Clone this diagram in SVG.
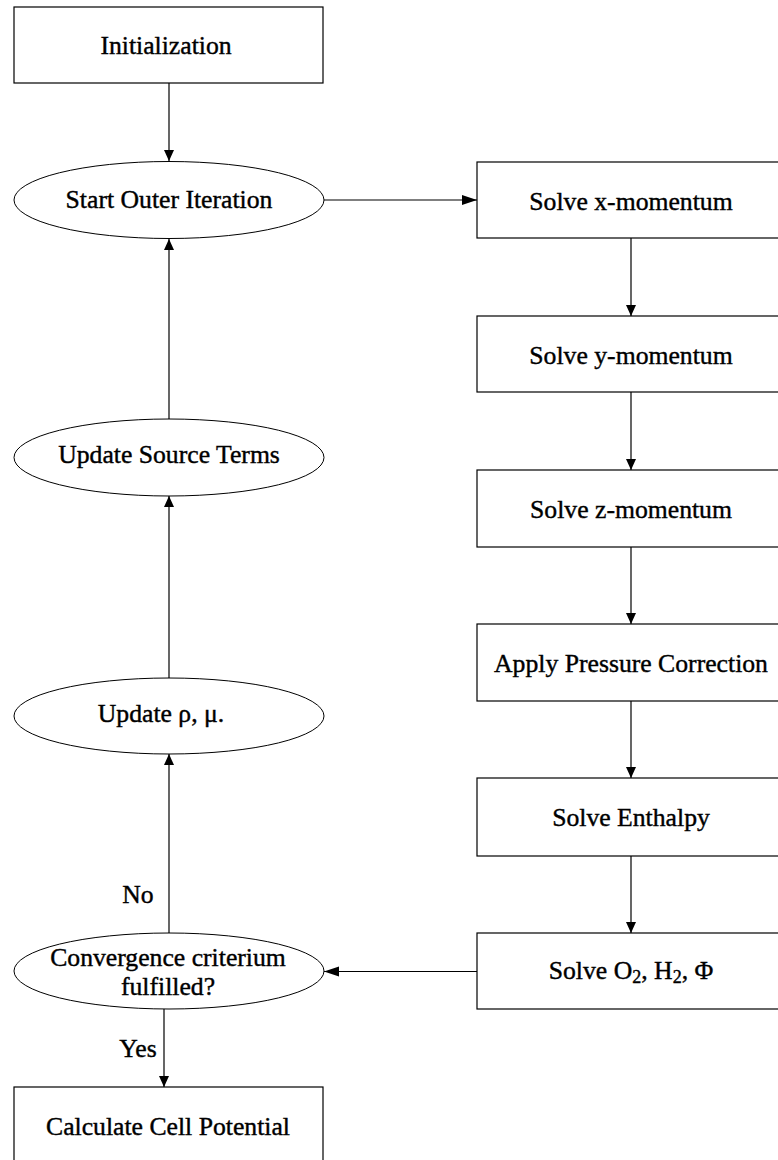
<svg xmlns="http://www.w3.org/2000/svg" width="778" height="1160" viewBox="0 0 778 1160">
<defs>
<style>
.box{fill:#fff;stroke:#000;stroke-width:1.2}
.oval{fill:#fff;stroke:#000;stroke-width:1}
.t{font-family:"Liberation Serif","Times New Roman",serif;font-size:25.7px;fill:#000;stroke:#000;stroke-width:0.4;text-anchor:middle}
.lbl{font-family:"Liberation Serif","Times New Roman",serif;font-size:25.7px;fill:#000;stroke:#000;stroke-width:0.4;text-anchor:middle}
.c{fill:none;stroke:#000;stroke-width:1.2}
.sub{font-size:18px}
</style>
<marker id="av" markerUnits="userSpaceOnUse" markerWidth="12" markerHeight="12" refX="11" refY="5" orient="auto">
<path d="M0,0 L11,5 L0,10 z" fill="#000"/>
</marker>
<marker id="ah" markerUnits="userSpaceOnUse" markerWidth="16" markerHeight="12" refX="15" refY="5" orient="auto">
<path d="M0,0 L15,5 L0,10 z" fill="#000"/>
</marker>
</defs>
<g id="connectors">
<line class="c" x1="169" y1="83" x2="169" y2="161" marker-end="url(#av)"/>
<line class="c" x1="324" y1="200" x2="477" y2="200" marker-end="url(#ah)"/>
<line class="c" x1="631" y1="238" x2="631" y2="316" marker-end="url(#av)"/>
<line class="c" x1="631" y1="392" x2="631" y2="470" marker-end="url(#av)"/>
<line class="c" x1="631" y1="547" x2="631" y2="624" marker-end="url(#av)"/>
<line class="c" x1="631" y1="701" x2="631" y2="778" marker-end="url(#av)"/>
<line class="c" x1="631" y1="856" x2="631" y2="933" marker-end="url(#av)"/>
<line class="c" x1="477" y1="971.5" x2="324" y2="971.5" marker-end="url(#ah)"/>
<line class="c" x1="169" y1="933" x2="169" y2="754" marker-end="url(#av)"/>
<line class="c" x1="169" y1="678" x2="169" y2="496" marker-end="url(#av)"/>
<line class="c" x1="169" y1="419" x2="169" y2="239" marker-end="url(#av)"/>
<line class="c" x1="164" y1="1009" x2="164" y2="1087" marker-end="url(#av)"/>
<text class="lbl" x="138" y="903">No</text>
<text class="lbl" x="138" y="1057">Yes</text>
</g>
<g id="initialization">
<rect class="box" x="14" y="7" width="309" height="76"/>
<text class="t" x="166" y="54">Initialization</text>
</g>
<g id="start-outer-iteration">
<ellipse class="oval" cx="169" cy="200" rx="155" ry="38.5"/>
<text class="t" x="169" y="208">Start Outer Iteration</text>
</g>
<g id="update-source-terms">
<ellipse class="oval" cx="169" cy="457.5" rx="155" ry="38.5"/>
<text class="t" x="169" y="463">Update Source Terms</text>
</g>
<g id="update-rho-mu">
<ellipse class="oval" cx="169" cy="716" rx="155" ry="38"/>
<text class="t" x="161" y="722">Update ρ, μ.</text>
</g>
<g id="convergence">
<ellipse class="oval" cx="169" cy="971" rx="155" ry="38"/>
<text class="t" x="168" y="966">Convergence criterium</text>
<text class="t" x="168" y="995">fulfilled?</text>
</g>
<g id="calculate-cell-potential">
<rect class="box" x="14" y="1087" width="309" height="80"/>
<text class="t" x="168" y="1135">Calculate Cell Potential</text>
</g>
<g id="solve-x-momentum">
<rect class="box" x="477" y="162" width="310" height="76"/>
<text class="t" x="631" y="210">Solve x-momentum</text>
</g>
<g id="solve-y-momentum">
<rect class="box" x="477" y="316" width="310" height="76"/>
<text class="t" x="631" y="364">Solve y-momentum</text>
</g>
<g id="solve-z-momentum">
<rect class="box" x="477" y="470" width="310" height="77"/>
<text class="t" x="631" y="518">Solve z-momentum</text>
</g>
<g id="apply-pressure-correction">
<rect class="box" x="477" y="624" width="310" height="77"/>
<text class="t" x="631" y="672">Apply Pressure Correction</text>
</g>
<g id="solve-enthalpy">
<rect class="box" x="477" y="778" width="310" height="78"/>
<text class="t" x="631" y="826">Solve Enthalpy</text>
</g>
<g id="solve-o2-h2-phi">
<rect class="box" x="477" y="933" width="310" height="76"/>
<text class="t" x="631" y="979">Solve O<tspan class="sub" dy="4">2</tspan><tspan dy="-4">, H</tspan><tspan class="sub" dy="4">2</tspan><tspan dy="-4">, Φ</tspan></text>
</g>
</svg>
